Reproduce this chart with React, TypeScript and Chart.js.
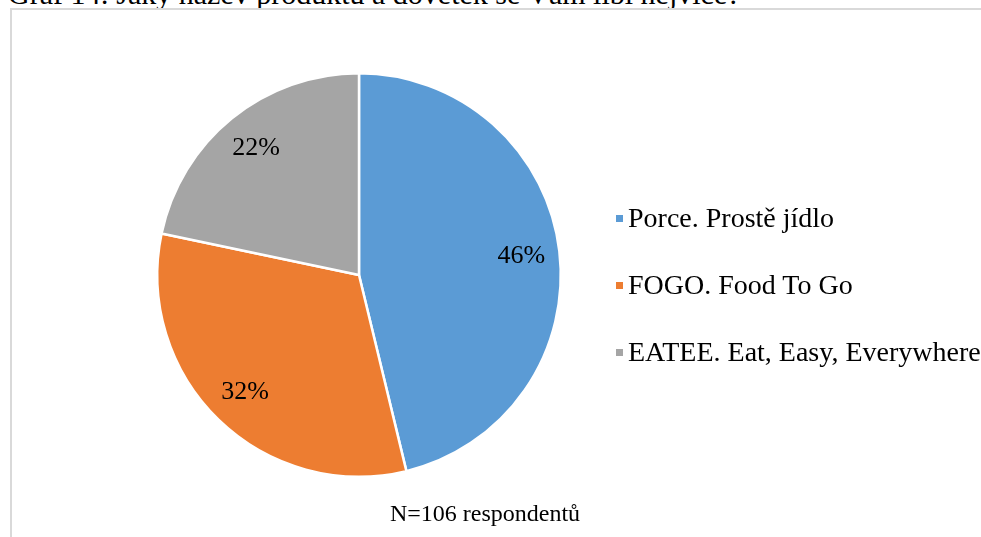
import React, { useEffect, useRef } from "react";
import { Chart, registerables } from "chart.js";

Chart.register(...registerables);

const title = "Graf 14: Jaký název produktu a dovětek se Vám líbí nejvíce?";
const categories = ["Porce. Prostě jídlo", "FOGO. Food To Go", "EATEE. Eat, Easy, Everywhere"];
const counts = [49, 34, 23];
const colors = ["#5B9BD5", "#ED7D31", "#A5A5A5"];
const footnote = "N=106 respondentů";

const FONT = "'Liberation Serif', 'Times New Roman', serif";

const pctLabels = {
  id: "pctLabels",
  afterDatasetsDraw(chart: any) {
    const ctx = chart.ctx;
    const meta = chart.getDatasetMeta(0);
    const data = chart.data.datasets[0].data as number[];
    const total = data.reduce((a, b) => a + b, 0);
    ctx.save();
    ctx.font = `26px ${FONT}`;
    ctx.fillStyle = "#000000";
    ctx.textAlign = "center";
    ctx.textBaseline = "middle";
    meta.data.forEach((arc: any, i: number) => {
      const { x, y, startAngle, endAngle, outerRadius } = arc.getProps(
        ["x", "y", "startAngle", "endAngle", "outerRadius"],
        true
      );
      const mid = (startAngle + endAngle) / 2;
      const r = outerRadius * 0.81;
      const text = Math.round((data[i] / total) * 100) + "%";
      ctx.fillText(text, x + Math.cos(mid) * r, y + Math.sin(mid) * r);
    });
    ctx.restore();
  },
};

export default function App() {
  const canvasRef = useRef<HTMLCanvasElement>(null);

  useEffect(() => {
    if (!canvasRef.current) return;
    const chart = new Chart(canvasRef.current, {
      type: "pie",
      data: {
        labels: categories,
        datasets: [
          {
            data: counts,
            backgroundColor: colors,
            borderColor: "#ffffff",
            borderWidth: 2.5,
          },
        ],
      },
      options: {
        responsive: false,
        animation: false,
        layout: { padding: { left: 156, top: 72, right: 419, bottom: 59 } },
        plugins: {
          legend: { display: false },
          tooltip: { enabled: false },
        },
      },
      plugins: [pctLabels],
    });
    return () => chart.destroy();
  }, []);

  return (
    <div
      style={{
        position: "fixed",
        left: 0,
        top: 0,
        width: 981,
        height: 537,
        overflow: "hidden",
        background: "#ffffff",
        fontFamily: FONT,
      }}
    >
      <div
        style={{
          position: "absolute",
          left: 8,
          top: -21,
          fontSize: 30,
          lineHeight: "30px",
          whiteSpace: "nowrap",
          color: "#000",
        }}
      >
        {title}
      </div>
      <div
        style={{
          position: "absolute",
          left: 10,
          top: 8,
          width: 1000,
          height: 600,
          border: "2px solid #d9d9d9",
          boxSizing: "border-box",
        }}
      />
      <canvas
        ref={canvasRef}
        width={981}
        height={537}
        style={{ position: "absolute", left: 0, top: 0, width: 981, height: 537 }}
      />
      {categories.map((c, i) => (
        <div
          key={c}
          style={{
            position: "absolute",
            left: 616,
            top: 218 + i * 67 - 15,
            height: 30,
            display: "flex",
            alignItems: "center",
            whiteSpace: "nowrap",
            fontSize: 28,
            color: "#000",
          }}
        >
          <span
            style={{
              display: "inline-block",
              width: 7,
              height: 7,
              background: colors[i],
              marginRight: 5,
            }}
          />
          <span>{c}</span>
        </div>
      ))}
      <div
        style={{
          position: "absolute",
          left: 385,
          width: 200,
          top: 500,
          textAlign: "center",
          fontSize: 24,
          lineHeight: "26px",
          whiteSpace: "nowrap",
          color: "#000",
        }}
      >
        {footnote}
      </div>
    </div>
  );
}
